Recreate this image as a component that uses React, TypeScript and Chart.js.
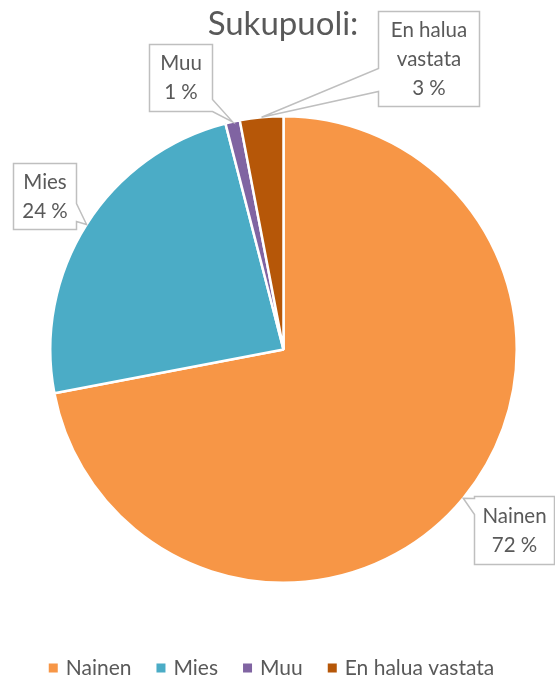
import React, { useEffect, useRef } from "react";
import { Chart, registerables } from "chart.js";

Chart.register(...registerables);

const titleText = "Sukupuoli:";
const categories = ["Nainen", "Mies", "Muu", "En halua vastata"];
const values = [72, 24, 1, 3];
const percentLabels = ["72 %", "24 %", "1 %", "3 %"];
const calloutLines = [["Nainen"], ["Mies"], ["Muu"], ["En halua", "vastata"]];
const colors = ["#F79646", "#4BACC6", "#8064A2", "#B65708"];

// callout box geometry relative to pie centre (label layout, not data)
const boxLayout = [
  { dx: 190, dy: 146, w: 80, h: 68, side: "left", a: 2, b: 18 },
  { dx: -271, dy: -187, w: 63, h: 66, side: "right", a: 40, b: 58 },
  { dx: -135, dy: -306, w: 63, h: 67, side: "right", a: 55, b: 67 },
  { dx: 94, dy: -339, w: 101, h: 95, side: "left", a: 57, b: 80 },
];

const FONT = "Lato";
const TEXT = "#595959";
const BOX = "#BFBFBF";

const overlayPlugin = {
  id: "overlay",
  afterDraw(chart: any) {
    const ctx = chart.ctx as CanvasRenderingContext2D;
    const meta = chart.getDatasetMeta(0);
    const W = chart.width;
    ctx.save();
    // title
    ctx.fillStyle = TEXT;
    ctx.font = `33px ${FONT}`;
    ctx.textAlign = "center";
    ctx.textBaseline = "alphabetic";
    const ca = chart.chartArea;
    ctx.fillText(titleText, 282.5 - 283 + (ca.left + ca.right) / 2, 35);

    // callouts
    meta.data.forEach((arc: any, i: number) => {
      const p = arc.getProps(["x", "y", "startAngle", "endAngle", "outerRadius"], true);
      const mid = (p.startAngle + p.endAngle) / 2;
      const tx = p.x + Math.cos(mid) * p.outerRadius;
      const ty = p.y + Math.sin(mid) * p.outerRadius;
      const bl = boxLayout[i];
      const L = Math.round(p.x + bl.dx) + 0.5, T = Math.round(p.y + bl.dy) + 0.5, R = L + bl.w, B = T + bl.h;
      ctx.beginPath();
      ctx.moveTo(L, T);
      ctx.lineTo(R, T);
      if (bl.side === "right") {
        ctx.lineTo(R, T + bl.a);
        ctx.lineTo(tx, ty);
        ctx.lineTo(R, T + bl.b);
      }
      ctx.lineTo(R, B);
      ctx.lineTo(L, B);
      if (bl.side === "left") {
        ctx.lineTo(L, T + bl.b);
        ctx.lineTo(tx, ty);
        ctx.lineTo(L, T + bl.a);
      }
      ctx.closePath();
      ctx.fillStyle = "#FFFFFF";
      ctx.fill();
      ctx.strokeStyle = BOX;
      ctx.lineWidth = 1.5;
      ctx.lineJoin = "miter";
      ctx.stroke();

      const lines = [...calloutLines[i], percentLabels[i]];
      ctx.fillStyle = TEXT;
      ctx.font = `20.5px ${FONT}`;
      ctx.textAlign = "center";
      ctx.textBaseline = "middle";
      const lh = 29;
      const cy = (T + B) / 2;
      lines.forEach((s, k) => {
        ctx.fillText(s, (L + R) / 2, cy + (k - (lines.length - 1) / 2) * lh);
      });
    });

    // legend
    ctx.font = `21px ${FONT}`;
    const sq = 9, gapText = 8, gapItem = 25;
    const widths = categories.map((c) => ctx.measureText(c).width);
    const total = widths.reduce((s, w) => s + sq + gapText + w, 0) + gapItem * (categories.length - 1);
    let x = W / 2 - 6 - total / 2;
    const ly = 668;
    ctx.textAlign = "left";
    ctx.textBaseline = "middle";
    categories.forEach((c, i) => {
      ctx.fillStyle = colors[i];
      ctx.fillRect(x, ly - sq / 2, sq, sq);
      ctx.fillStyle = TEXT;
      ctx.fillText(c, x + sq + gapText, ly);
      x += sq + gapText + widths[i] + gapItem;
    });
    ctx.restore();
  },
};

export default function App() {
  const ref = useRef<HTMLCanvasElement | null>(null);
  useEffect(() => {
    document.body.style.margin = "0";
    const chart = new Chart(ref.current!, {
      type: "pie",
      data: {
        labels: categories,
        datasets: [
          {
            data: values,
            backgroundColor: colors,
            borderColor: "#FFFFFF",
            borderWidth: 2.5,
          },
        ],
      },
      options: {
        responsive: false,
        animation: false,
        layout: { padding: { left: 49, right: 37, top: 115, bottom: 98 } },
        plugins: {
          legend: { display: false },
          title: { display: false },
          tooltip: { enabled: false },
        },
      },
      plugins: [overlayPlugin],
    });
    return () => chart.destroy();
  }, []);
  return <canvas ref={ref} width={555} height={682} style={{ display: "block" }} />;
}
